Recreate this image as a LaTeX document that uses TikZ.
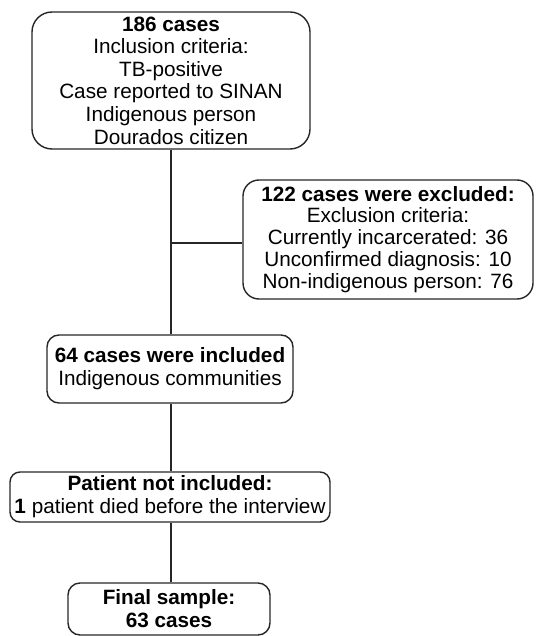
\documentclass[tikz,border=0pt]{standalone}
\usepackage{fontspec}
\setmainfont{Liberation Sans}
\begin{document}
\begin{tikzpicture}[x=1bp,y=-1bp,
  box/.style={draw=black!85, line width=1.4bp, align=center, inner sep=0pt,
    font=\fontsize{20.8}{22.7}\selectfont},
  link/.style={draw=black!85, line width=1.4bp}]
\useasboundingbox (0,0) rectangle (538,636);
\node[box, rounded corners=20bp, minimum width=278bp, minimum height=137bp] (b1) at (171,80.5)
  {\textbf{186 cases}\\Inclusion criteria:\\TB-positive\\Case reported to SINAN\\Indigenous person\\Dourados citizen};
\node[box, rounded corners=16bp, minimum width=290bp, minimum height=119bp,
  font=\fontsize{20.8}{22}\selectfont] (b2) at (388,239.5)
  {\textbf{122 cases were excluded:}\\Exclusion criteria:\\Currently incarcerated: 36\\Unconfirmed diagnosis: 10\\Non-indigenous person: 76};
\node[box, rounded corners=12bp, minimum width=246bp, minimum height=68bp,
  font=\fontsize{20.8}{23}\selectfont] (b3) at (170,369)
  {\textbf{64 cases were included}\\Indigenous communities};
\node[box, rounded corners=10bp, minimum width=320bp, minimum height=50bp,
  font=\fontsize{20.8}{23}\selectfont] (b4) at (170,497)
  {\textbf{Patient not included:}\\\textbf{1} patient died before the interview};
\node[box, rounded corners=12bp, minimum width=202bp, minimum height=52bp,
  font=\fontsize{20.8}{23}\selectfont] (b5) at (169,609)
  {\textbf{Final sample:}\\\textbf{63 cases}};
\coordinate (j) at (171,243);
\draw[link] (b1.south -| j) -- (b3.north -| j);
\draw[link] (j) -- (j -| b2.west);
\draw[link] (b3.south -| j) -- (b4.north -| j);
\draw[link] (b4.south -| j) -- (b5.north -| j);
\end{tikzpicture}
\end{document}
